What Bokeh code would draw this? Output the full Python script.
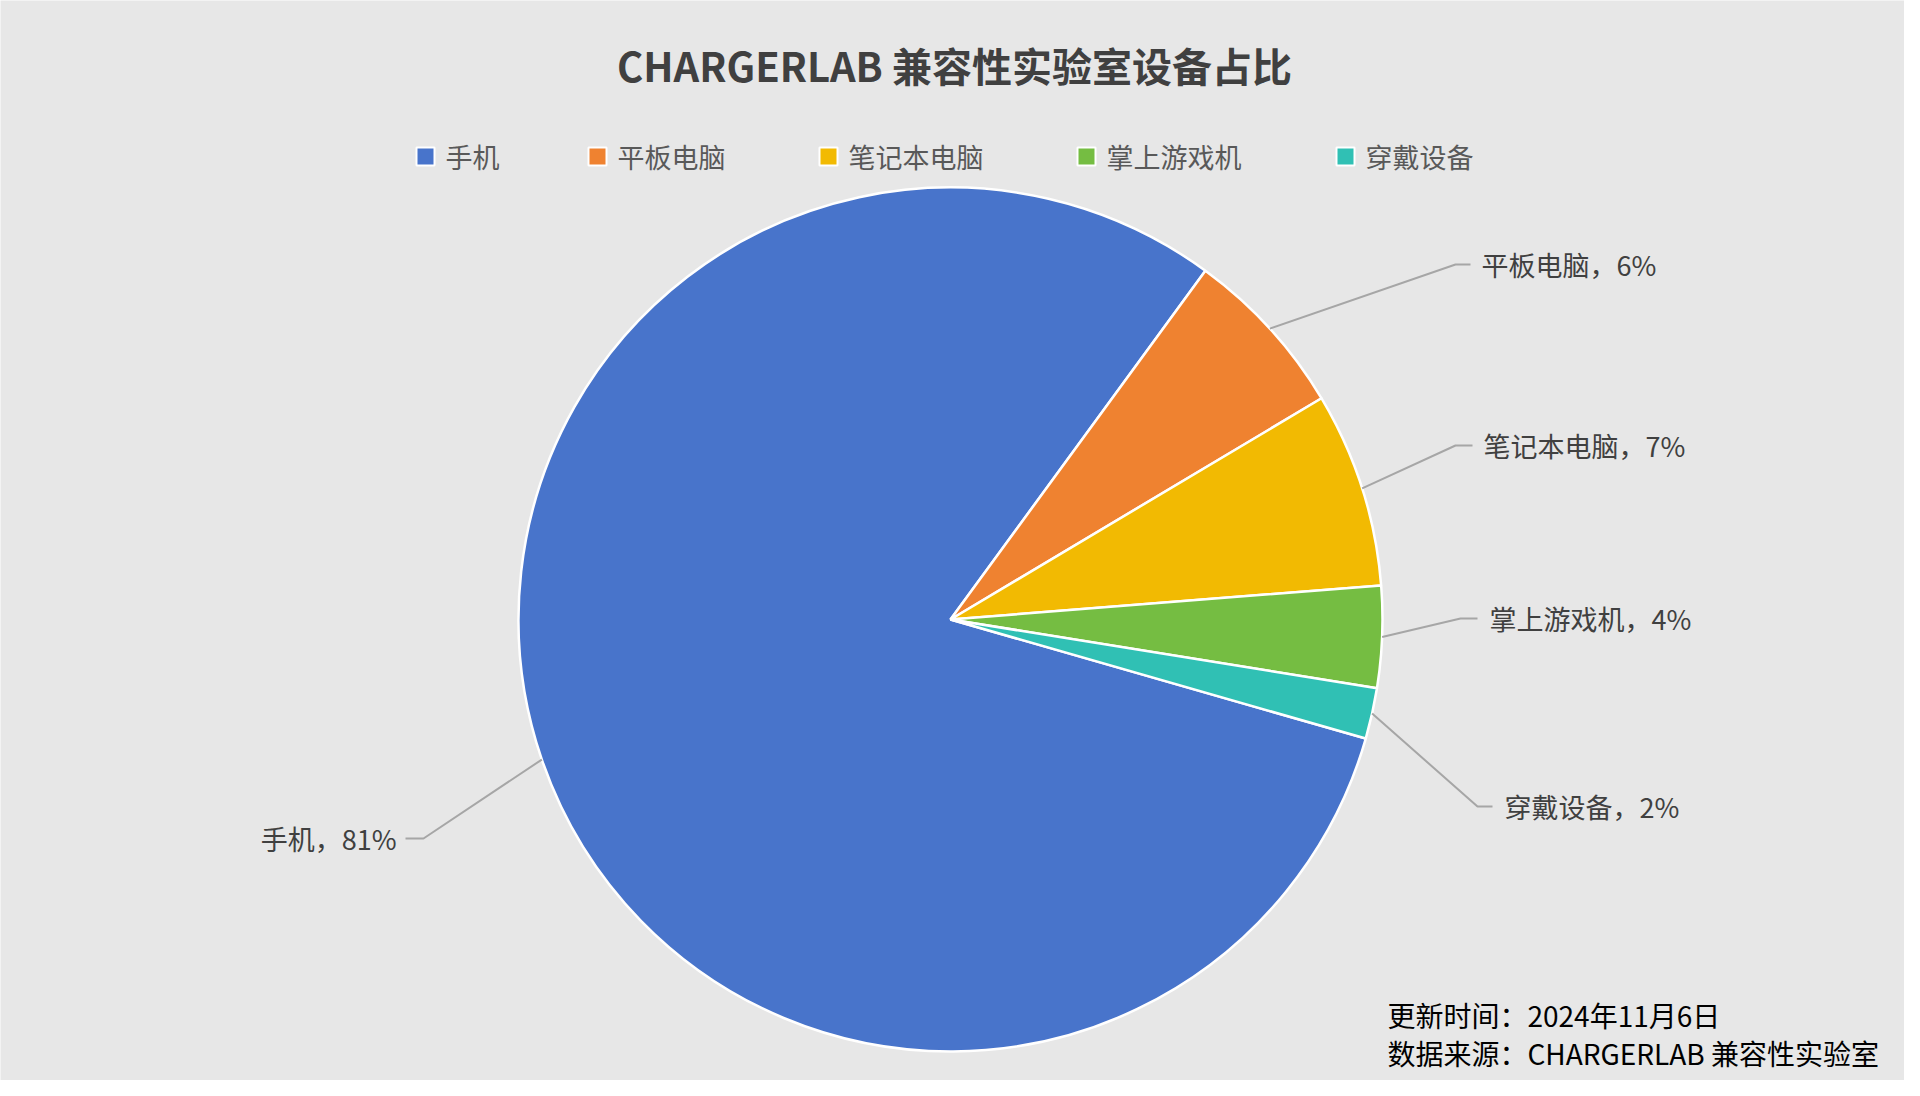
from math import sin, cos, radians

from bokeh.plotting import figure
from bokeh.models import Range1d
from bokeh.core.properties import value
from bokeh.embed import file_html
from bokeh.resources import INLINE

# --- data ---
categories = ["手机", "平板电脑", "笔记本电脑", "掌上游戏机", "穿戴设备"]
shares = [80.6, 6.4, 7.3, 3.8, 1.9]  # percent
colors = ["#4874CB", "#EF8230", "#F2BA02", "#75BD42", "#30C0B4"]

title_text = "CHARGERLAB 兼容性实验室设备占比"
footer_lines = ["更新时间：2024年11月6日", "数据来源：CHARGERLAB 兼容性实验室"]

# --- layout (reference pixel coords, origin top-left of screenshot) ---
W, H = 1904, 1080
FONT = "Noto Sans CJK SC"
BG = "#e7e7e7"
first_slice_angle = 106.0  # degrees clockwise from 12 o'clock
cx, cy, R = 958, 627, 432

legend_x = [433, 605, 836, 1094, 1353]
legend_y = 164

# label elbow (x, y), horizontal end x, text x, text alignment
label_layout = [
    (431, 846, 413, 404, "right"),
    (1463, 272, 1478, 1489, "left"),
    (1463, 453, 1480, 1491, "left"),
    (1468, 626, 1485, 1497, "left"),
    (1485, 814, 1500, 1512, "left"),
]


def X(x):
    return x - 8


def Y(y):
    return H + 8 - y


p = figure(
    width=W,
    height=H,
    x_range=Range1d(0, W),
    y_range=Range1d(0, H),
    toolbar_location=None,
    output_backend="svg",
    min_border=0,
)
p.axis.visible = False
p.grid.visible = False
p.outline_line_color = None
p.background_fill_color = BG
p.border_fill_color = BG

# --- pie ---
total = sum(shares)
starts, ends, mids = [], [], []
a = first_slice_angle
for s in shares:
    span = s / total * 360.0
    starts.append(a)
    ends.append(a + span)
    mids.append(a + span / 2)
    a += span

p.wedge(
    x=X(cx),
    y=Y(cy),
    radius=R,
    start_angle=[radians(90 - t) for t in starts],
    end_angle=[radians(90 - t) for t in ends],
    direction="clock",
    fill_color=colors,
    line_color="white",
    line_width=2.5,
)

# --- leader lines + data labels ---
xs, ys = [], []
for m, (ex, ey, hx, tx, al) in zip(mids, label_layout):
    sx = cx + R * sin(radians(m))
    sy = cy - R * cos(radians(m))
    xs.append([X(sx), X(ex), X(hx)])
    ys.append([Y(sy), Y(ey), Y(ey)])
p.multi_line(xs=xs, ys=ys, line_color="#a6a6a6", line_width=2)

for cat, s, (ex, ey, hx, tx, al) in zip(categories, shares, label_layout):
    p.text(
        x=[X(tx)],
        y=[Y(ey)],
        text=[f"{cat}，{round(s / total * 100)}%"],
        text_font=value(FONT),
        text_font_size="27px",
        text_color="#404040",
        text_align=al,
        text_baseline="middle",
    )

# --- title ---
p.text(
    x=[X(962)],
    y=[Y(72)],
    text=[title_text],
    text_font=value(FONT),
    text_font_size="40px",
    text_font_style="bold",
    text_color="#404040",
    text_align="center",
    text_baseline="middle",
)

# --- legend ---
p.rect(
    x=[X(v) for v in legend_x],
    y=Y(legend_y),
    width=18,
    height=18,
    fill_color=colors,
    line_color="white",
    line_width=2,
)
p.text(
    x=[X(v + 20) for v in legend_x],
    y=Y(legend_y),
    text=categories,
    text_font=value(FONT),
    text_font_size="27px",
    text_color="#595959",
    text_align="left",
    text_baseline="middle",
)

# --- footer ---
p.text(
    x=[X(1395), X(1395)],
    y=[Y(1022), Y(1060)],
    text=footer_lines,
    text_font=value(FONT),
    text_font_size="28px",
    text_color="#000000",
    text_align="left",
    text_baseline="middle",
)

open("out.html", "w").write(file_html(p, INLINE))
